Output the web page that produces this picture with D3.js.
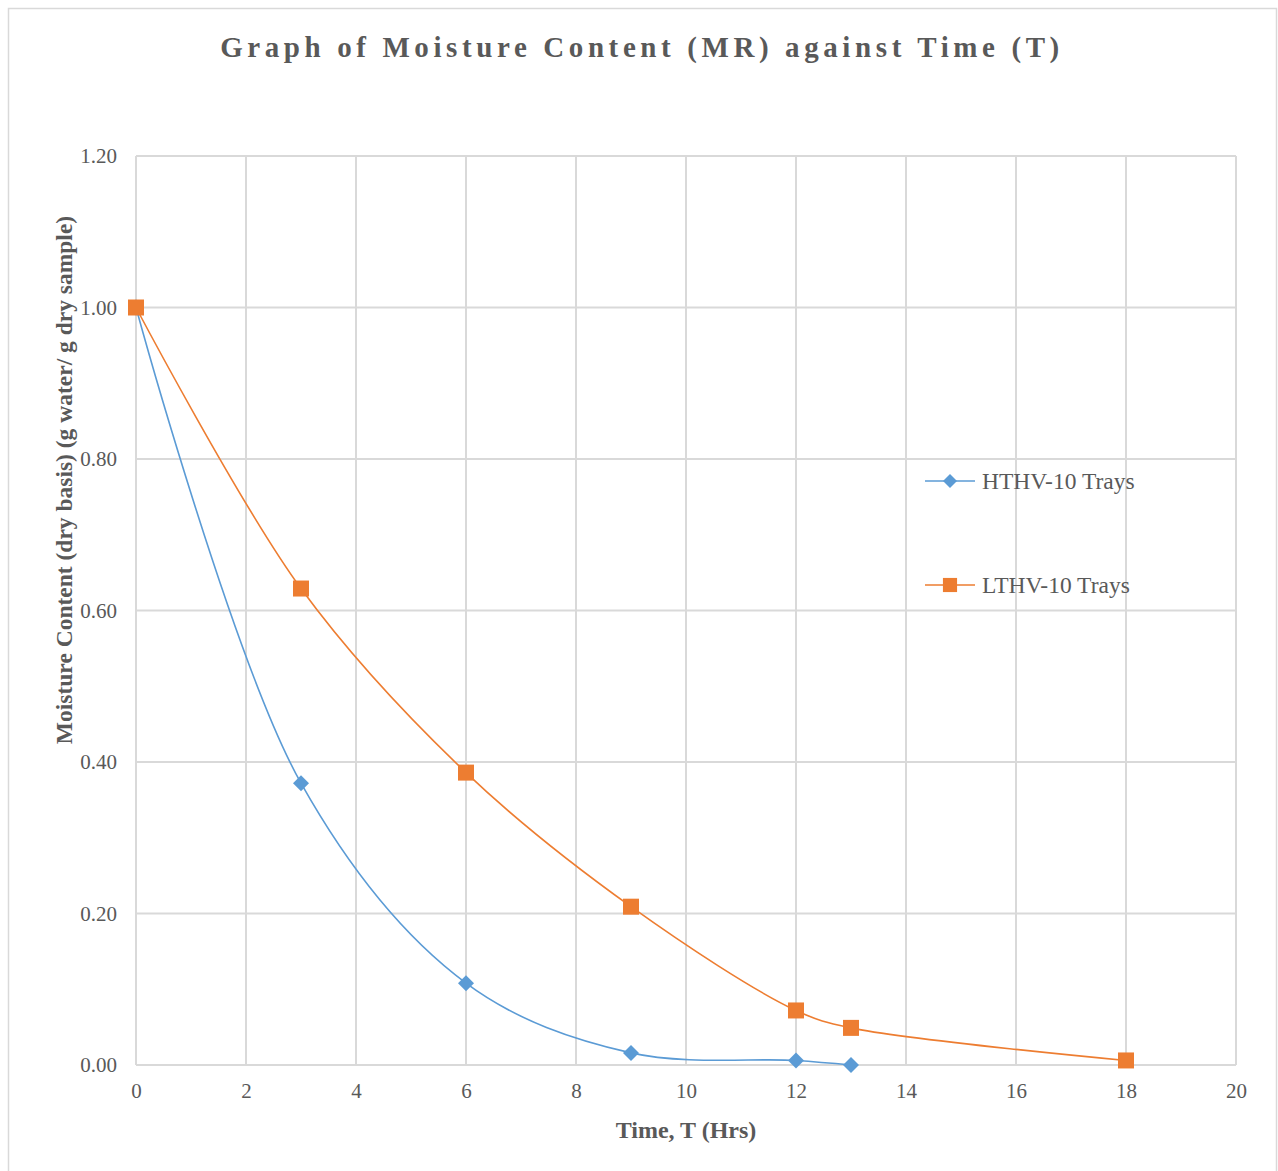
<!DOCTYPE html>
<html>
<head>
<meta charset="utf-8">
<script src="https://cdn.jsdelivr.net/npm/d3@7/dist/d3.min.js"></script>
<style>
  body { margin: 0; background: #fff; }
  text { font-family: "Liberation Serif", "DejaVu Serif", serif; }
</style>
</head>
<body>
<div id="chart"></div>
<script>
// data
var timeHT = [0, 3, 6, 9, 12, 13];
var mcHT   = [1.00, 0.372, 0.108, 0.016, 0.006, 0.000];
var timeLT = [0, 3, 6, 9, 12, 13, 18];
var mcLT   = [1.00, 0.629, 0.386, 0.209, 0.072, 0.049, 0.006];
var xTicks = [0, 2, 4, 6, 8, 10, 12, 14, 16, 18, 20];
var yTicks = [0, 0.2, 0.4, 0.6, 0.8, 1.0, 1.2];
var seriesNames = ["HTHV-10 Trays", "LTHV-10 Trays"];
var seriesColors = ["#5B9BD5", "#ED7D31"];

var width = 1278, height = 1171;
var margin = {top: 156, right: 42, bottom: 106, left: 136};

var svg = d3.select("#chart").append("svg")
    .attr("width", width)
    .attr("height", height);

// chart area border
svg.append("rect")
    .attr("x", 8.5).attr("y", 8.5)
    .attr("width", width - 10).attr("height", height)
    .attr("fill", "none")
    .attr("stroke", "#d9d9d9")
    .attr("stroke-width", 1.5);

var x = d3.scaleLinear().domain([0, 20]).range([margin.left, width - margin.right]);
var y = d3.scaleLinear().domain([0, 1.2]).range([height - margin.bottom, margin.top]);

// gridlines
svg.append("g").selectAll("line")
    .data(yTicks).enter().append("line")
    .attr("x1", x(0)).attr("x2", x(20))
    .attr("y1", function(d) { return y(d); })
    .attr("y2", function(d) { return y(d); })
    .attr("stroke", "#d9d9d9").attr("stroke-width", 2);

svg.append("g").selectAll("line")
    .data(xTicks).enter().append("line")
    .attr("y1", y(0)).attr("y2", y(1.2))
    .attr("x1", function(d) { return x(d); })
    .attr("x2", function(d) { return x(d); })
    .attr("stroke", "#d9d9d9").attr("stroke-width", 2);

// axes (labels only)
var xAxis = svg.append("g")
    .attr("transform", "translate(0," + y(0) + ")")
    .call(d3.axisBottom(x).tickValues(xTicks).tickSize(0).tickPadding(18).tickFormat(d3.format("d")));
var yAxis = svg.append("g")
    .attr("transform", "translate(" + x(0) + ",0)")
    .call(d3.axisLeft(y).tickValues(yTicks).tickSize(0).tickPadding(19).tickFormat(d3.format(".2f")));

[xAxis, yAxis].forEach(function(a) {
  a.select(".domain").remove();
  a.selectAll("text")
    .style("font-family", "Liberation Serif, serif")
    .style("font-size", "21px")
    .attr("fill", "#595959");
});

// title
svg.append("text")
    .attr("x", 642).attr("y", 57)
    .attr("text-anchor", "middle")
    .style("font-size", "29px")
    .style("font-weight", "bold")
    .style("letter-spacing", "4.6px")
    .attr("fill", "#595959")
    .text("Graph of Moisture Content (MR) against Time (T)");

// axis titles
svg.append("text")
    .attr("x", 686).attr("y", 1138)
    .attr("text-anchor", "middle")
    .style("font-size", "24px")
    .style("font-weight", "bold")
    .attr("fill", "#595959")
    .text("Time, T (Hrs)");

svg.append("text")
    .attr("transform", "translate(72," + 480 + ") rotate(-90)")
    .attr("text-anchor", "middle")
    .style("font-size", "23.5px")
    .style("font-weight", "bold")
    .attr("fill", "#595959")
    .text("Moisture Content (dry basis) (g water/ g dry sample)");

// series
var diamond = {draw: function(ctx, size) {
  var r = Math.sqrt(size) / 2;
  ctx.moveTo(0, -r); ctx.lineTo(r, 0); ctx.lineTo(0, r); ctx.lineTo(-r, 0); ctx.closePath();
}};

var series = [
  {name: seriesNames[0], color: seriesColors[0], shape: diamond, size: 256,
   pts: timeHT.map(function(t, i) { return [t, mcHT[i]]; })},
  {name: seriesNames[1], color: seriesColors[1], shape: d3.symbolSquare, size: 256,
   pts: timeLT.map(function(t, i) { return [t, mcLT[i]]; })}
];

var line = d3.line()
    .x(function(d) { return x(d[0]); })
    .y(function(d) { return y(d[1]); })
    .curve(d3.curveCatmullRom.alpha(0.5));

// draw orange first so blue sits over it at the shared start point, markers after
series.slice().reverse().forEach(function(s) {
  svg.append("path")
      .datum(s.pts)
      .attr("d", line)
      .attr("fill", "none")
      .attr("stroke", s.color)
      .attr("stroke-width", 1.6);
});

series.forEach(function(s) {
  svg.append("g").selectAll("path")
      .data(s.pts).enter().append("path")
      .attr("transform", function(d) { return "translate(" + x(d[0]) + "," + y(d[1]) + ")"; })
      .attr("d", d3.symbol().type(s.shape).size(s.size))
      .attr("fill", s.color);
});

// legend
var legend = svg.append("g");
series.forEach(function(s, i) {
  var ly = 481 + i * 104;
  legend.append("line")
      .attr("x1", 925).attr("x2", 975)
      .attr("y1", ly).attr("y2", ly)
      .attr("stroke", s.color).attr("stroke-width", 1.6);
  legend.append("path")
      .attr("transform", "translate(950," + ly + ")")
      .attr("d", d3.symbol().type(s.shape).size(i === 0 ? 196 : 200))
      .attr("fill", s.color);
  legend.append("text")
      .attr("x", 982).attr("y", ly + 8)
      .style("font-size", "23.5px")
      .attr("fill", "#595959")
      .text(s.name);
});
</script>
</body>
</html>
